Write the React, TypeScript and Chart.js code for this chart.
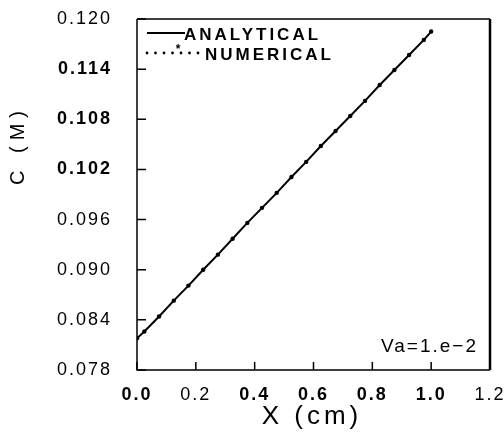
import React, { useEffect, useRef } from "react";
import { Chart, registerables } from "chart.js";

Chart.register(...registerables);

const xValues = [0, 0.025, 0.075, 0.125, 0.175, 0.225, 0.275, 0.325, 0.375, 0.425, 0.475, 0.525, 0.575, 0.625, 0.675, 0.725, 0.775, 0.825, 0.875, 0.925, 0.975, 1.0];
const analytical = [0.0818, 0.0826, 0.0844, 0.0863, 0.0881, 0.0900, 0.0918, 0.0937, 0.0956, 0.0974, 0.0992, 0.1011, 0.1029, 0.1048, 0.1066, 0.1084, 0.1102, 0.1121, 0.1139, 0.1157, 0.1175, 0.1185];
const numerical = [0.0818, 0.0826, 0.0844, 0.0863, 0.0881, 0.0900, 0.0918, 0.0937, 0.0956, 0.0974, 0.0992, 0.1011, 0.1029, 0.1048, 0.1066, 0.1084, 0.1102, 0.1121, 0.1139, 0.1157, 0.1175, 0.1185];
const xTicks = [0, 0.2, 0.4, 0.6, 0.8, 1.0, 1.2];
const yTicks = [0.078, 0.084, 0.09, 0.096, 0.102, 0.108, 0.114, 0.12];
const xBold = [0, 0.4, 0.6, 0.8, 1.0];
const yBold = [0.102, 0.108, 0.114];
const seriesNames = ["ANALYTICAL", "NUMERICAL"];
const xTitle = "X (cm)";
const yTitle = "C (M)";
const annotation = "Va=1.e\u22122";

const FONT = "'Liberation Sans', Arial, sans-serif";

const near = (a: number, list: number[]) => list.some((v) => Math.abs(v - a) < 1e-9);

export default function App() {
  const ref = useRef<HTMLCanvasElement | null>(null);
  useEffect(() => {
    const canvas = ref.current!;
    const spacingPlugin = {
      id: "spacing",
      beforeLayout(chart: any) {
        chart.ctx.letterSpacing = "2px";
      },
      beforeDraw(chart: any) {
        chart.ctx.letterSpacing = "2px";
      },
    };
    const decor = {
      id: "decor",
      afterDraw(chart: any) {
        const ctx = chart.ctx as CanvasRenderingContext2D;
        const { left, right, top, bottom } = chart.chartArea;
        const xs = chart.scales.x;
        const ys = chart.scales.y;
        ctx.save();
        ctx.strokeStyle = "#000";
        ctx.fillStyle = "#000";
        // frame
        ctx.lineWidth = 1.5;
        ctx.beginPath();
        ctx.moveTo(left, top);
        ctx.lineTo(right, top);
        ctx.moveTo(left, top);
        ctx.lineTo(left, bottom);
        ctx.lineTo(right, bottom);
        ctx.stroke();
        ctx.lineWidth = 2.5;
        ctx.beginPath();
        ctx.moveTo(right, top);
        ctx.lineTo(right, bottom);
        ctx.stroke();
        // inward ticks
        ctx.lineWidth = 1.5;
        ctx.beginPath();
        yTicks.forEach((v) => {
          const y = ys.getPixelForValue(v);
          ctx.moveTo(left, y);
          ctx.lineTo(left + 9, y);
        });
        xTicks.forEach((v) => {
          const x = xs.getPixelForValue(v);
          ctx.moveTo(x, bottom);
          ctx.lineTo(x, bottom - 8);
        });
        ctx.stroke();
        // legend
        const lx = left + 10;
        ctx.lineWidth = 2;
        ctx.beginPath();
        ctx.moveTo(lx, top + 14);
        ctx.lineTo(lx + 38, top + 14);
        ctx.stroke();
        for (let i = 0; i < 7; i++) {
          ctx.beginPath();
          ctx.arc(lx + i * 8.5, top + 34, 1.4, 0, Math.PI * 2);
          ctx.fill();
        }
        ctx.font = `bold 12px ${FONT}`;
        ctx.letterSpacing = "0px";
        ctx.textAlign = "center";
        ctx.textBaseline = "middle";
        ctx.fillText("*", lx + 31, top + 31);
        ctx.font = `bold 17px ${FONT}`;
        ctx.letterSpacing = "3px";
        ctx.textAlign = "left";
        ctx.textBaseline = "alphabetic";
        ctx.fillText(seriesNames[0], lx + 37, top + 21);
        ctx.fillText(seriesNames[1], lx + 58, top + 41);
        // annotation
        ctx.font = `19px ${FONT}`;
        ctx.letterSpacing = "2px";
        ctx.textAlign = "right";
        ctx.fillText(annotation, right - 12, bottom - 18);
        // x title
        ctx.font = `26px ${FONT}`;
        ctx.letterSpacing = "4px";
        ctx.textAlign = "center";
        ctx.textBaseline = "middle";
        ctx.fillText(xTitle, 312, 417);
        // y title
        ctx.save();
        ctx.translate(18, 145);
        ctx.rotate(-Math.PI / 2);
        ctx.font = `20px ${FONT}`;
        ctx.letterSpacing = "6px";
        ctx.fillText(yTitle, 0, 0);
        ctx.restore();
        ctx.restore();
      },
    };
    const chart = new Chart(canvas, {
      type: "scatter",
      data: {
        datasets: [
          {
            label: seriesNames[0],
            data: xValues.map((x, i) => ({ x, y: analytical[i] })),
            showLine: true,
            borderColor: "#000",
            borderWidth: 2,
            pointRadius: 0,
            tension: 0,
          },
          {
            label: seriesNames[1],
            data: xValues.map((x, i) => ({ x, y: numerical[i] })),
            showLine: false,
            backgroundColor: "#000",
            borderColor: "#000",
            pointRadius: 2.2,
            borderWidth: 0,
          },
        ],
      },
      options: {
        animation: false,
        responsive: false,
        events: [],
        layout: { padding: { top: 19, right: 14, left: 0, bottom: 0 } },
        plugins: { legend: { display: false }, tooltip: { enabled: false } },
        scales: {
          x: {
            type: "linear",
            min: 0,
            max: 1.2,
            grid: { display: false, drawTicks: false },
            border: { display: false },
            afterBuildTicks: (s: any) => {
              s.ticks = xTicks.map((v) => ({ value: v }));
            },
            afterFit: (s: any) => {
              s.height = 63;
              s.paddingLeft = 0;
              s.paddingRight = 0;
            },
            ticks: {
              color: "#000",
              padding: 14,
              maxRotation: 0,
              autoSkip: false,
              callback: (v: any) => Number(v).toFixed(1),
              font: (c: any) => ({
                family: FONT,
                size: 18,
                weight: c.tick && near(c.tick.value, xBold) ? "bold" : "normal",
              }),
            },
          },
          y: {
            type: "linear",
            min: 0.078,
            max: 0.12,
            grid: { display: false, drawTicks: false },
            border: { display: false },
            afterBuildTicks: (s: any) => {
              s.ticks = yTicks.map((v) => ({ value: v }));
            },
            afterFit: (s: any) => {
              s.width = 137;
              s.paddingTop = 0;
              s.paddingBottom = 0;
            },
            ticks: {
              color: "#000",
              padding: 25,
              autoSkip: false,
              callback: (v: any) => Number(v).toFixed(3),
              font: (c: any) => ({
                family: FONT,
                size: 18,
                weight: c.tick && near(c.tick.value, yBold) ? "bold" : "normal",
              }),
            },
          },
        },
      },
      plugins: [spacingPlugin, decor],
    });
    return () => chart.destroy();
  }, []);
  return (
    <div style={{ position: "fixed", left: 0, top: 0, width: 504, height: 433, background: "#fff" }}>
      <canvas ref={ref} width={504} height={433} style={{ display: "block" }} />
    </div>
  );
}
